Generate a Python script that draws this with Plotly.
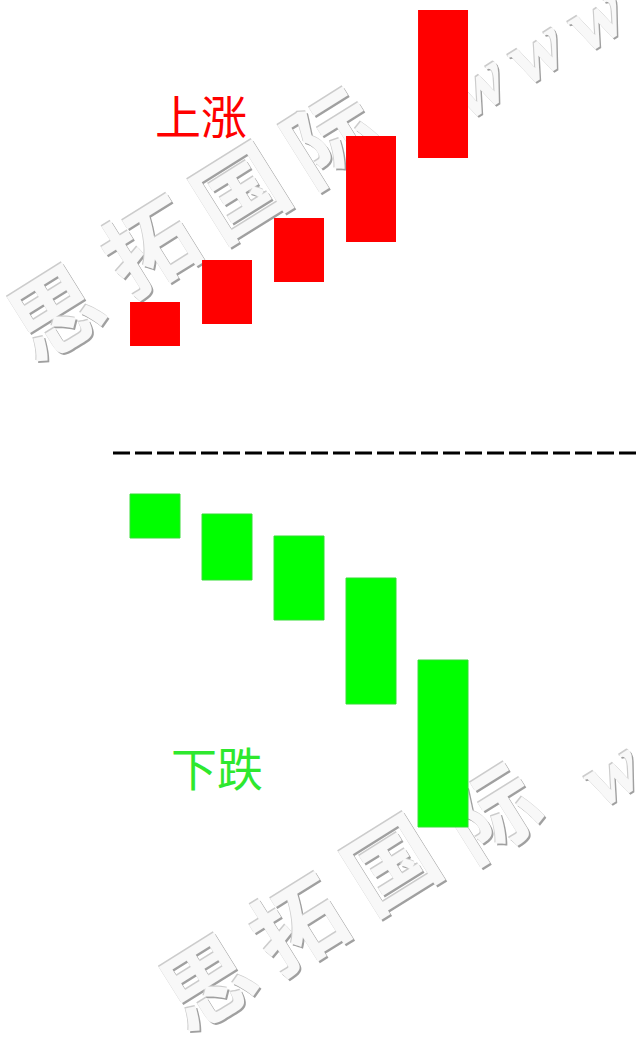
import plotly.graph_objects as go

# five sessions, each candle body as open -> close (price units)
sessions = [1, 2, 3, 4, 5]
up_open = [69.6, 71.8, 76.0, 80.0, 88.4]
up_close = [74.0, 78.2, 82.4, 90.6, 103.2]
down_open = [54.8, 52.8, 50.6, 46.4, 38.2]
down_close = [50.4, 46.2, 42.2, 33.8, 21.5]
up_label = "上涨"
down_label = "下跌"
watermark_chars = ["思", "拓", "国", "际"]
watermark_web = ["w", "w", "w"]

W, H = 637, 1042
divider_level = 58.9

fig = go.Figure()
fig.add_trace(go.Bar(
    x=sessions, base=up_open,
    y=[c - o for o, c in zip(up_open, up_close)],
    width=0.694, marker=dict(color="#ff0000", line=dict(width=0)),
    hoverinfo="skip"))
fig.add_trace(go.Bar(
    x=sessions, base=down_open,
    y=[c - o for o, c in zip(down_open, down_close)],
    width=0.694, marker=dict(color="#00ff00", line=dict(color="#33dd33", width=1)),
    hoverinfo="skip"))


def stamp(text, cx, cy, size, family="Noto Sans CJK SC", style="normal"):
    """ embossed grey watermark glyph, drawn under the bars
    """
    for dx, dy, col in [(1.6, 1.6, "#a0a0a0"), (-1.2, -1.2, "#cccccc"), (0, 0, "#f8f8f8")]:
        x, y = cx + dx, cy + dy
        fig.add_shape(type="rect", xref="paper", yref="paper",
                      x0=(x - 1) / W, x1=(x + 1) / W,
                      y0=1 - (y + 1) / H, y1=1 - (y - 1) / H,
                      line=dict(width=0), layer="below",
                      label=dict(text=text, textangle=-32,
                                 font=dict(size=size, color=col, family=family,
                                           weight="bold", style=style)))


top_pos = [(60, 320), (155, 254), (245, 200), (336, 145)]
top_web = [(472, 76), (530, 42), (590, 9)]
bottom_pos = [(212, 990), (303, 932), (396, 872), (497, 820)]
bottom_web = [(606, 764), (664, 728)]

for ch, (cx, cy) in zip(watermark_chars, top_pos):
    stamp(ch, cx, cy, 90)
for ch, (cx, cy) in zip(watermark_web, top_web):
    stamp(ch, cx, cy, 80, "Liberation Serif", "italic")
for ch, (cx, cy) in zip(watermark_chars, bottom_pos):
    stamp(ch, cx, cy, 90)
for ch, (cx, cy) in zip(watermark_web, bottom_web):
    stamp(ch, cx, cy, 80, "Liberation Serif", "italic")

fig.add_shape(type="line", xref="paper", yref="y",
              x0=113 / W, x1=1, y0=divider_level, y1=divider_level,
              line=dict(color="black", width=3, dash="17px,5px"))

fig.add_annotation(text=up_label, xref="paper", yref="paper",
                   x=201 / W, y=1 - 114 / H, showarrow=False,
                   xanchor="center", yanchor="middle",
                   font=dict(size=46, color="#ff0000", family="Noto Sans CJK SC"))
fig.add_annotation(text=down_label, xref="paper", yref="paper",
                   x=217 / W, y=1 - 766 / H, showarrow=False,
                   xanchor="center", yanchor="middle",
                   font=dict(size=46, color="#2ee82e", family="Noto Sans CJK SC"))

fig.update_layout(
    width=W, height=H, margin=dict(l=0, r=0, t=0, b=0),
    barmode="overlay", showlegend=False,
    paper_bgcolor="white", plot_bgcolor="rgba(0,0,0,0)",
    xaxis=dict(range=[-1.1528, 7.694], visible=False, fixedrange=True),
    yaxis=dict(range=[0, 104.2], visible=False, fixedrange=True),
)

# page body has a default 8px margin; drop it so the figure sits at 0,0
fig.write_html("out.html", config={"displayModeBar": False},
               post_script="document.body.style.margin='0';")
